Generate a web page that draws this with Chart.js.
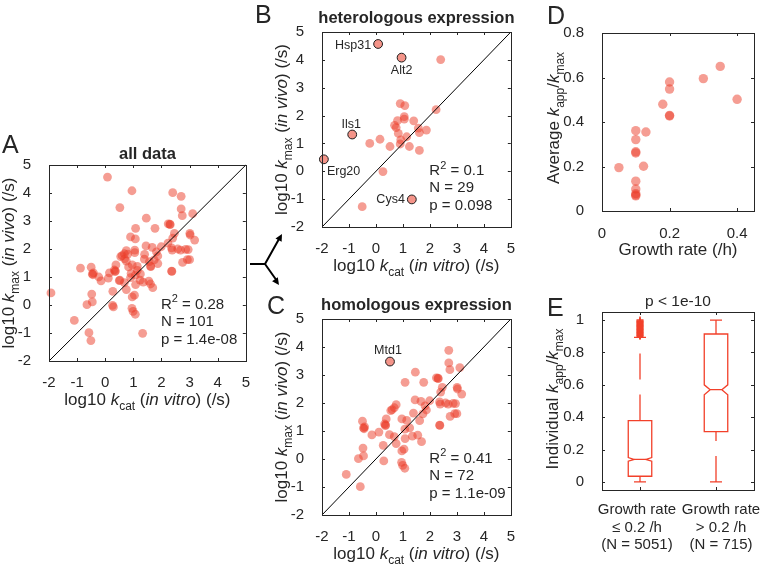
<!DOCTYPE html>
<html>
<head>
<meta charset="utf-8">
<script src="https://cdn.jsdelivr.net/npm/chart.js@4.4.0/dist/chart.umd.min.js"></script>
<style>
  body { margin: 0; background: #fff; }
  #wrap { position: relative; width: 762px; height: 569px; overflow: hidden; }
  canvas { position: absolute; }
</style>
</head>
<body>
<div id="wrap">
  <canvas id="cA" style="left:0;top:100px" width="255" height="320"></canvas>
  <canvas id="cB" style="left:250px;top:0" width="270" height="290"></canvas>
  <canvas id="cC" style="left:250px;top:290px" width="270" height="279"></canvas>
  <canvas id="cD" style="left:530px;top:0" width="232" height="280"></canvas>
  <canvas id="cE" style="left:530px;top:290px" width="232" height="279"></canvas>
</div>
<script>
// ---- data ----
const kTicks = [-2, -1, 0, 1, 2, 3, 4, 5];

// heterologous expression (panel B), unlabelled points
const hetX = [-0.51, 0.26, -0.23, 0.15, 0.52, 0.90, 1.07, 2.23, 0.80, 1.05, 1.05, 1.40, 0.69, 0.75, 0.83, 1.57, 1.61, 1.87, 1.14, 0.92, 0.90, 1.24, 1.61, 2.40];
const hetY = [-1.27, -0.01, 1.00, 1.15, 0.89, 2.43, 2.36, 2.21, 1.82, 1.96, 1.87, 1.81, 1.65, 1.57, 1.36, 1.55, 1.39, 1.48, 1.24, 1.13, 0.98, 0.89, 0.75, 4.01];
// heterologous, named enzymes
const hetNames = ['Hsp31', 'Alt2', 'Ils1', 'Erg20', 'Cys4'];
const hetNameX = [0.08, 0.95, -0.88, -1.93, 1.33];
const hetNameY = [4.57, 4.08, 1.32, 0.43, -1.01];

// homologous expression (panel C), unlabelled points
const homX = [2.70, 2.70, 2.74, 3.11, 1.46, 1.08, 1.77, 2.24, 2.30, 2.46, 3.01, 3.02, 3.18, 2.40, 1.45, 1.67, 1.99, 2.36, 2.38, 2.58,
  2.86, 2.95, 2.68, 1.82, 1.87, 1.39, 1.74, 1.62, 2.92, 3.00, 2.75, 2.36, 0.75, 0.68, 0.60, 0.55, 0.38, 0.32, 0.35, 0.96,
  1.14, 1.07, 1.25, 1.35, 1.55, 1.08, 1.69, -0.50, -0.46, -0.42, -0.15, 0.11, 0.50, 0.68, 0.27, 0.75, 0.96, 1.04, 0.29, -0.48,
  -0.46, -0.65, 0.95, 0.99, 1.07, -1.10, -0.58, -0.44, 0.36, 2.37, 2.31];
const homY = [3.88, 3.43, 3.19, 3.26, 3.10, 2.74, 2.74, 2.90, 2.89, 2.56, 2.56, 2.50, 2.32, 2.39, 2.11, 2.06, 2.08, 2.04, 1.96, 2.00,
  1.99, 1.98, 1.96, 1.90, 1.75, 1.64, 1.61, 1.37, 1.62, 1.62, 1.52, 1.21, 1.94, 1.83, 1.76, 1.73, 1.43, 1.25, 1.19, 1.43,
  1.38, 1.07, 1.11, 0.82, 0.85, 0.73, 0.62, 1.35, 1.11, 1.15, 0.86, 0.96, 0.87, 0.80, 0.49, 0.55, 0.29, 0.35, -0.07, 0.39,
  0.11, 0.01, -0.12, -0.23, -0.33, -0.55, -0.99, 1.08, 1.22, 1.20, 2.87];
const homNames = ['Mtd1'];
const homNameX = [0.52];
const homNameY = [3.48];

const statsA = ['0.28', '101', '1.4e-08'];
const statsB = ['0.1', '29', '0.098'];
const statsC = ['0.41', '72', '1.1e-09'];

// panel D
const growthRate = [0.05, 0.10, 0.10, 0.13, 0.10, 0.10, 0.123, 0.10, 0.10, 0.10, 0.10, 0.10, 0.20, 0.20, 0.18, 0.20, 0.20, 0.30, 0.35, 0.40];
const avgRatio = [0.195, 0.361, 0.321, 0.355, 0.261, 0.266, 0.201, 0.134, 0.099, 0.078, 0.068, 0.072, 0.580, 0.548, 0.480, 0.427, 0.430, 0.595, 0.650, 0.502];
const dTicksX = [0, 0.2, 0.4];
const ratioTicks = [0, 0.2, 0.4, 0.6, 0.8];

// panel E (box plot summary)
const boxCats = [['Growth rate', '≤ 0.2 /h', '(N = 5051)'], ['Growth rate', '> 0.2 /h', '(N = 715)']];
const boxLow = [0, 0];
const boxQ1 = [0.035, 0.311];
const boxMed = [0.139, 0.570];
const boxQ3 = [0.379, 0.914];
const boxHigh = [0.893, 1.0];
const notchLo = [0.128, 0.539];
const notchHi = [0.150, 0.600];
const outlierY = [0.90, 0.905, 0.91, 0.915, 0.92, 0.925, 0.93, 0.935, 0.94, 0.945, 0.95, 0.955, 0.96, 0.965, 0.97, 0.975, 0.98, 0.985, 0.99, 0.995, 1.0];
const eTicksY = [0, 0.2, 0.4, 0.6, 0.8, 1];

// ---- styling ----
const FAM = "'Liberation Sans', Arial, Helvetica, sans-serif";
const INK = '#262626';
const DOT = 'rgba(235, 60, 40, 0.5)';
const BOX = '#f2402a';
const TICK_FONT = 15;
const LABEL_FONT = 17;
Chart.defaults.font.family = FAM;
Chart.defaults.color = INK;

const toXY = (xs, ys) => xs.map((x, i) => ({ x: x, y: ys[i] }));

function fontOf(f, size) {
  const small = f.includes('s') || f.includes('u');
  return (f.includes('i') ? 'italic ' : '') + (f.includes('b') ? 'bold ' : '') +
    (small ? Math.round(size * 0.72) : size) + 'px ' + FAM;
}

// text made of runs: [text, flags]  i=italic s=subscript u=superscript b=bold
function drawRich(ctx, parts, x, y, size, align, vertical) {
  ctx.save();
  ctx.translate(x, y);
  if (vertical) ctx.rotate(-Math.PI / 2);
  ctx.fillStyle = INK;
  ctx.textBaseline = 'alphabetic';
  ctx.textAlign = 'left';
  let total = 0;
  parts.forEach(p => { ctx.font = fontOf(p[1] || '', size); total += ctx.measureText(p[0]).width; });
  let cx = align === 'center' ? -total / 2 : align === 'right' ? -total : 0;
  parts.forEach(p => {
    const f = p[1] || '';
    ctx.font = fontOf(f, size);
    const dy = f.includes('s') ? size * 0.28 : f.includes('u') ? -size * 0.42 : 0;
    ctx.fillText(p[0], cx, dy);
    cx += ctx.measureText(p[0]).width;
  });
  ctx.restore();
}

// matlab style box with inward ticks on all four sides
const framePlugin = {
  id: 'frame',
  afterDraw(chart) {
    const { ctx, chartArea: a, scales } = chart;
    const L = 3;
    ctx.save();
    ctx.strokeStyle = INK;
    ctx.lineWidth = 1;
    ctx.strokeRect(Math.round(a.left) + 0.5, Math.round(a.top) + 0.5, Math.round(a.right - a.left), Math.round(a.bottom - a.top));
    ctx.beginPath();
    scales.x.ticks.forEach(t => {
      const p = Math.round(scales.x.getPixelForValue(t.value)) + 0.5;
      ctx.moveTo(p, a.bottom); ctx.lineTo(p, a.bottom - L);
      ctx.moveTo(p, a.top); ctx.lineTo(p, a.top + L);
    });
    scales.y.ticks.forEach(t => {
      const p = Math.round(scales.y.getPixelForValue(t.value)) + 0.5;
      ctx.moveTo(a.left, p); ctx.lineTo(a.left + L, p);
      ctx.moveTo(a.right, p); ctx.lineTo(a.right - L, p);
    });
    ctx.stroke();
    ctx.restore();
  }
};

const kmaxLabel = [['log10 '], ['k', 'i'], ['max', 's'], [' ('], ['in vivo', 'i'], [') (/s)']];
const kcatLabel = [['log10 '], ['k', 'i'], ['cat', 's'], [' ('], ['in vitro', 'i'], [') (/s)']];

function drawStats(chart, s) {
  const { ctx, scales } = chart;
  const x = scales.x.getPixelForValue(1.98);
  const y0 = scales.y.getPixelForValue(-0.13);
  drawRich(ctx, [['R'], ['2', 'u'], [' = ' + s[0]]], x, y0, 15, 'left');
  drawRich(ctx, [['N = ' + s[1]]], x, y0 + 17.5, 15, 'left');
  drawRich(ctx, [['p = ' + s[2]]], x, y0 + 35, 15, 'left');
}

function drawAxisLabels(chart, title, letter, letterPos, titleY) {
  const { ctx, chartArea: a } = chart;
  const mid = (a.left + a.right) / 2;
  drawRich(ctx, kcatLabel, mid, a.bottom + 44, LABEL_FONT, 'center');
  drawRich(ctx, kmaxLabel, a.left - 35, (a.top + a.bottom) / 2, LABEL_FONT, 'center', true);
  drawRich(ctx, [[title, 'b']], mid, titleY, 16.5, 'center');
  drawRich(ctx, [[letter]], letterPos[0], letterPos[1], 25, 'left');
}

// label offsets (pixels) relative to the point: dx, dy, align
const nameStyle = {
  Hsp31: [-7, 5, 'right'], Alt2: [0, 16, 'center'], Ils1: [-1, -7, 'center'],
  Erg20: [3, 16, 'left'], Cys4: [-7, 4, 'right'], Mtd1: [-2, -8, 'center']
};
function drawNames(chart, names, xs, ys) {
  const { ctx, scales } = chart;
  names.forEach((n, i) => {
    const st = nameStyle[n];
    const px = scales.x.getPixelForValue(xs[i]);
    const py = scales.y.getPixelForValue(ys[i]);
    drawRich(ctx, [[n]], px + st[0], py + st[1], 12.5, st[2]);
  });
}

function kPanel(id, pad, xH, datasets, deco) {
  const lineSet = {
    type: 'line', data: [{ x: kTicks[0], y: kTicks[0] }, { x: kTicks[kTicks.length - 1], y: kTicks[kTicks.length - 1] }],
    borderColor: '#000', borderWidth: 1, pointRadius: 0, clip: false
  };
  new Chart(document.getElementById(id), {
    type: 'scatter',
    data: { datasets: [lineSet].concat(datasets) },
    options: {
      responsive: false, animation: false, events: [],
      layout: { padding: { top: pad[0], right: pad[1], left: 0, bottom: 0 } },
      plugins: { legend: { display: false }, tooltip: { enabled: false } },
      scales: {
        x: {
          type: 'linear', min: kTicks[0], max: kTicks[kTicks.length - 1],
          afterBuildTicks: s => { s.ticks = kTicks.map(v => ({ value: v })); },
          afterFit: s => { s.height = xH; },
          grid: { display: false }, border: { display: false },
          ticks: { font: { size: TICK_FONT }, color: INK, padding: 5, maxRotation: 0, autoSkip: false }
        },
        y: {
          type: 'linear', min: kTicks[0], max: kTicks[kTicks.length - 1],
          afterBuildTicks: s => { s.ticks = kTicks.map(v => ({ value: v })); },
          afterFit: s => { s.width = pad[2]; },
          grid: { display: false }, border: { display: false },
          ticks: { font: { size: TICK_FONT }, color: INK, padding: 10, autoSkip: false }
        }
      }
    },
    plugins: [framePlugin, { id: 'deco', afterDraw: deco }]
  });
}

const dotSet = data => ({ data: data, backgroundColor: DOT, borderWidth: 0, pointRadius: 4.4, clip: false });
const namedSet = data => ({ data: data, backgroundColor: 'rgba(235, 60, 40, 0.55)', borderColor: '#1a1a1a', borderWidth: 1, pointRadius: 4.4, clip: false });

// A: all data
kPanel('cA', [65, 9, 49], 59,
  [dotSet(toXY(hetX.concat(hetNameX, homX, homNameX), hetY.concat(hetNameY, homY, homNameY)))],
  chart => {
    drawStats(chart, statsA);
    drawAxisLabels(chart, 'all data', 'A', [2, 53], 59);
  });

// B: heterologous
kPanel('cB', [32, 3, 72], 63,
  [namedSet(toXY(hetNameX, hetNameY)), dotSet(toXY(hetX, hetY))],
  chart => {
    drawStats(chart, statsB);
    drawNames(chart, hetNames, hetNameX, hetNameY);
    drawAxisLabels(chart, 'heterologous expression', 'B', [5, 23], 23);
    // connector from panel A
    const ctx = chart.ctx;
    ctx.save();
    ctx.strokeStyle = '#000'; ctx.fillStyle = '#000'; ctx.lineWidth = 2;
    ctx.beginPath();
    ctx.moveTo(0, 264); ctx.lineTo(15, 264);
    ctx.moveTo(15, 264); ctx.lineTo(29, 239);
    ctx.moveTo(15, 264); ctx.lineTo(27, 281);
    ctx.stroke();
    const head = (x, y, ang) => {
      ctx.save(); ctx.translate(x, y); ctx.rotate(ang);
      ctx.beginPath(); ctx.moveTo(0, 0); ctx.lineTo(-7, -3.5); ctx.lineTo(-7, 3.5); ctx.closePath(); ctx.fill();
      ctx.restore();
    };
    head(32, 234, Math.atan2(-25, 14));
    head(29, 285, Math.atan2(17, 12));
    ctx.restore();
  });

// C: homologous
kPanel('cC', [29, 3, 72], 54,
  [namedSet(toXY(homNameX, homNameY)), dotSet(toXY(homX, homY))],
  chart => {
    drawStats(chart, statsC);
    drawNames(chart, homNames, homNameX, homNameY);
    drawAxisLabels(chart, 'homologous expression', 'C', [17, 24], 20);
  });

// D: average kapp/kmax vs growth rate
new Chart(document.getElementById('cD'), {
  type: 'scatter',
  data: { datasets: [{ data: toXY(growthRate, avgRatio), backgroundColor: DOT, borderWidth: 0, pointRadius: 4.7, clip: false }] },
  options: {
    responsive: false, animation: false, events: [],
    layout: { padding: { top: 33, right: 8, left: 0, bottom: 0 } },
    plugins: { legend: { display: false }, tooltip: { enabled: false } },
    scales: {
      x: {
        type: 'linear', min: 0, max: 0.45,
        afterBuildTicks: s => { s.ticks = dTicksX.map(v => ({ value: v })); },
        afterFit: s => { s.height = 69; },
        grid: { display: false }, border: { display: false },
        ticks: { font: { size: TICK_FONT }, color: INK, padding: 6, maxRotation: 0, autoSkip: false, callback: v => String(v) }
      },
      y: {
        type: 'linear', min: 0, max: 0.8,
        afterBuildTicks: s => { s.ticks = ratioTicks.map(v => ({ value: v })); },
        afterFit: s => { s.width = 72; },
        grid: { display: false }, border: { display: false },
        ticks: { font: { size: TICK_FONT }, color: INK, padding: 10, autoSkip: false, callback: v => String(v) }
      }
    }
  },
  plugins: [framePlugin, {
    id: 'decoD', afterDraw(chart) {
      const { ctx, chartArea: a } = chart;
      drawRich(ctx, [['Growth rate (/h)']], (a.left + a.right) / 2, a.bottom + 44, LABEL_FONT, 'center');
      drawRich(ctx, [['Average '], ['k', 'i'], ['app', 's'], ['/'], ['k', 'i'], ['max', 's']], a.left - 43, (a.top + a.bottom) / 2 - 4, LABEL_FONT, 'center', true);
      drawRich(ctx, [['D']], 17, 24, 25, 'left');
    }
  }]
});

// E: individual kapp/kmax box plots
const boxPlugin = {
  id: 'boxes',
  afterDatasetsDraw(chart) {
    const { ctx, scales: { x, y } } = chart;
    const Y = v => y.getPixelForValue(v);
    const hw = 11.75, inset = 5.9, cap = 6;
    ctx.save();
    ctx.strokeStyle = BOX;
    ctx.lineWidth = 1.3;
    boxQ1.forEach((q1, i) => {
      const cx = x.getPixelForValue(i + 1);
      ctx.setLineDash([]);
      ctx.beginPath();
      ctx.moveTo(cx - hw, Y(q1));
      ctx.lineTo(cx - hw, Y(notchLo[i]));
      ctx.lineTo(cx - hw + inset, Y(boxMed[i]));
      ctx.lineTo(cx - hw, Y(notchHi[i]));
      ctx.lineTo(cx - hw, Y(boxQ3[i]));
      ctx.lineTo(cx + hw, Y(boxQ3[i]));
      ctx.lineTo(cx + hw, Y(notchHi[i]));
      ctx.lineTo(cx + hw - inset, Y(boxMed[i]));
      ctx.lineTo(cx + hw, Y(notchLo[i]));
      ctx.lineTo(cx + hw, Y(q1));
      ctx.closePath();
      ctx.moveTo(cx - hw + inset, Y(boxMed[i]));
      ctx.lineTo(cx + hw - inset, Y(boxMed[i]));
      ctx.moveTo(cx - cap, Y(boxLow[i])); ctx.lineTo(cx + cap, Y(boxLow[i]));
      ctx.moveTo(cx - cap, Y(boxHigh[i])); ctx.lineTo(cx + cap, Y(boxHigh[i]));
      ctx.stroke();
      ctx.setLineDash([26, 15]);
      ctx.beginPath();
      ctx.moveTo(cx, Y(boxLow[i])); ctx.lineTo(cx, Y(q1));
      ctx.stroke();
      ctx.beginPath();
      ctx.moveTo(cx, Y(boxQ3[i])); ctx.lineTo(cx, Y(boxHigh[i]));
      ctx.stroke();
    });
    ctx.restore();
  }
};

// category labels under the boxes; the second is nudged right so they do not collide
const catShift = [-3, 5];
new Chart(document.getElementById('cE'), {
  type: 'scatter',
  data: {
    datasets: [{
      data: outlierY.map(v => ({ x: 1, y: v })), pointStyle: 'cross', pointRadius: 3.5,
      borderColor: BOX, borderWidth: 1.5, clip: false
    }]
  },
  options: {
    responsive: false, animation: false, events: [],
    layout: { padding: { top: 22, right: 8, left: 0, bottom: 0 } },
    plugins: { legend: { display: false }, tooltip: { enabled: false } },
    scales: {
      x: {
        type: 'linear', min: 0.5, max: 2.5,
        afterBuildTicks: s => { s.ticks = boxCats.map((c, i) => ({ value: i + 1 })); },
        afterFit: s => { s.height = 79; },
        grid: { display: false }, border: { display: false },
        ticks: { maxRotation: 0, autoSkip: false, callback: () => '' }
      },
      y: {
        type: 'linear', min: -0.05, max: 1.05,
        afterBuildTicks: s => { s.ticks = eTicksY.map(v => ({ value: v })); },
        afterFit: s => { s.width = 72; },
        grid: { display: false }, border: { display: false },
        ticks: { font: { size: TICK_FONT }, color: INK, padding: 10, autoSkip: false, callback: v => String(v) }
      }
    }
  },
  plugins: [framePlugin, boxPlugin, {
    id: 'decoE', afterDraw(chart) {
      const { ctx, chartArea: a, scales } = chart;
      boxCats.forEach((lines, i) => {
        const cx = scales.x.getPixelForValue(i + 1) + catShift[i];
        lines.forEach((t, j) => drawRich(ctx, [[t]], cx, a.bottom + 24 + j * 17.5, 15, 'center'));
      });
      drawRich(ctx, [['p < 1e-10']], (a.left + a.right) / 2, a.top - 6, 15.5, 'center');
      drawRich(ctx, [['Individual '], ['k', 'i'], ['app', 's'], ['/'], ['k', 'i'], ['max', 's']], a.left - 44, (a.top + a.bottom) / 2 - 2, LABEL_FONT, 'center', true);
      drawRich(ctx, [['E']], 17, 26, 25, 'left');
    }
  }]
});
</script>
</body>
</html>
